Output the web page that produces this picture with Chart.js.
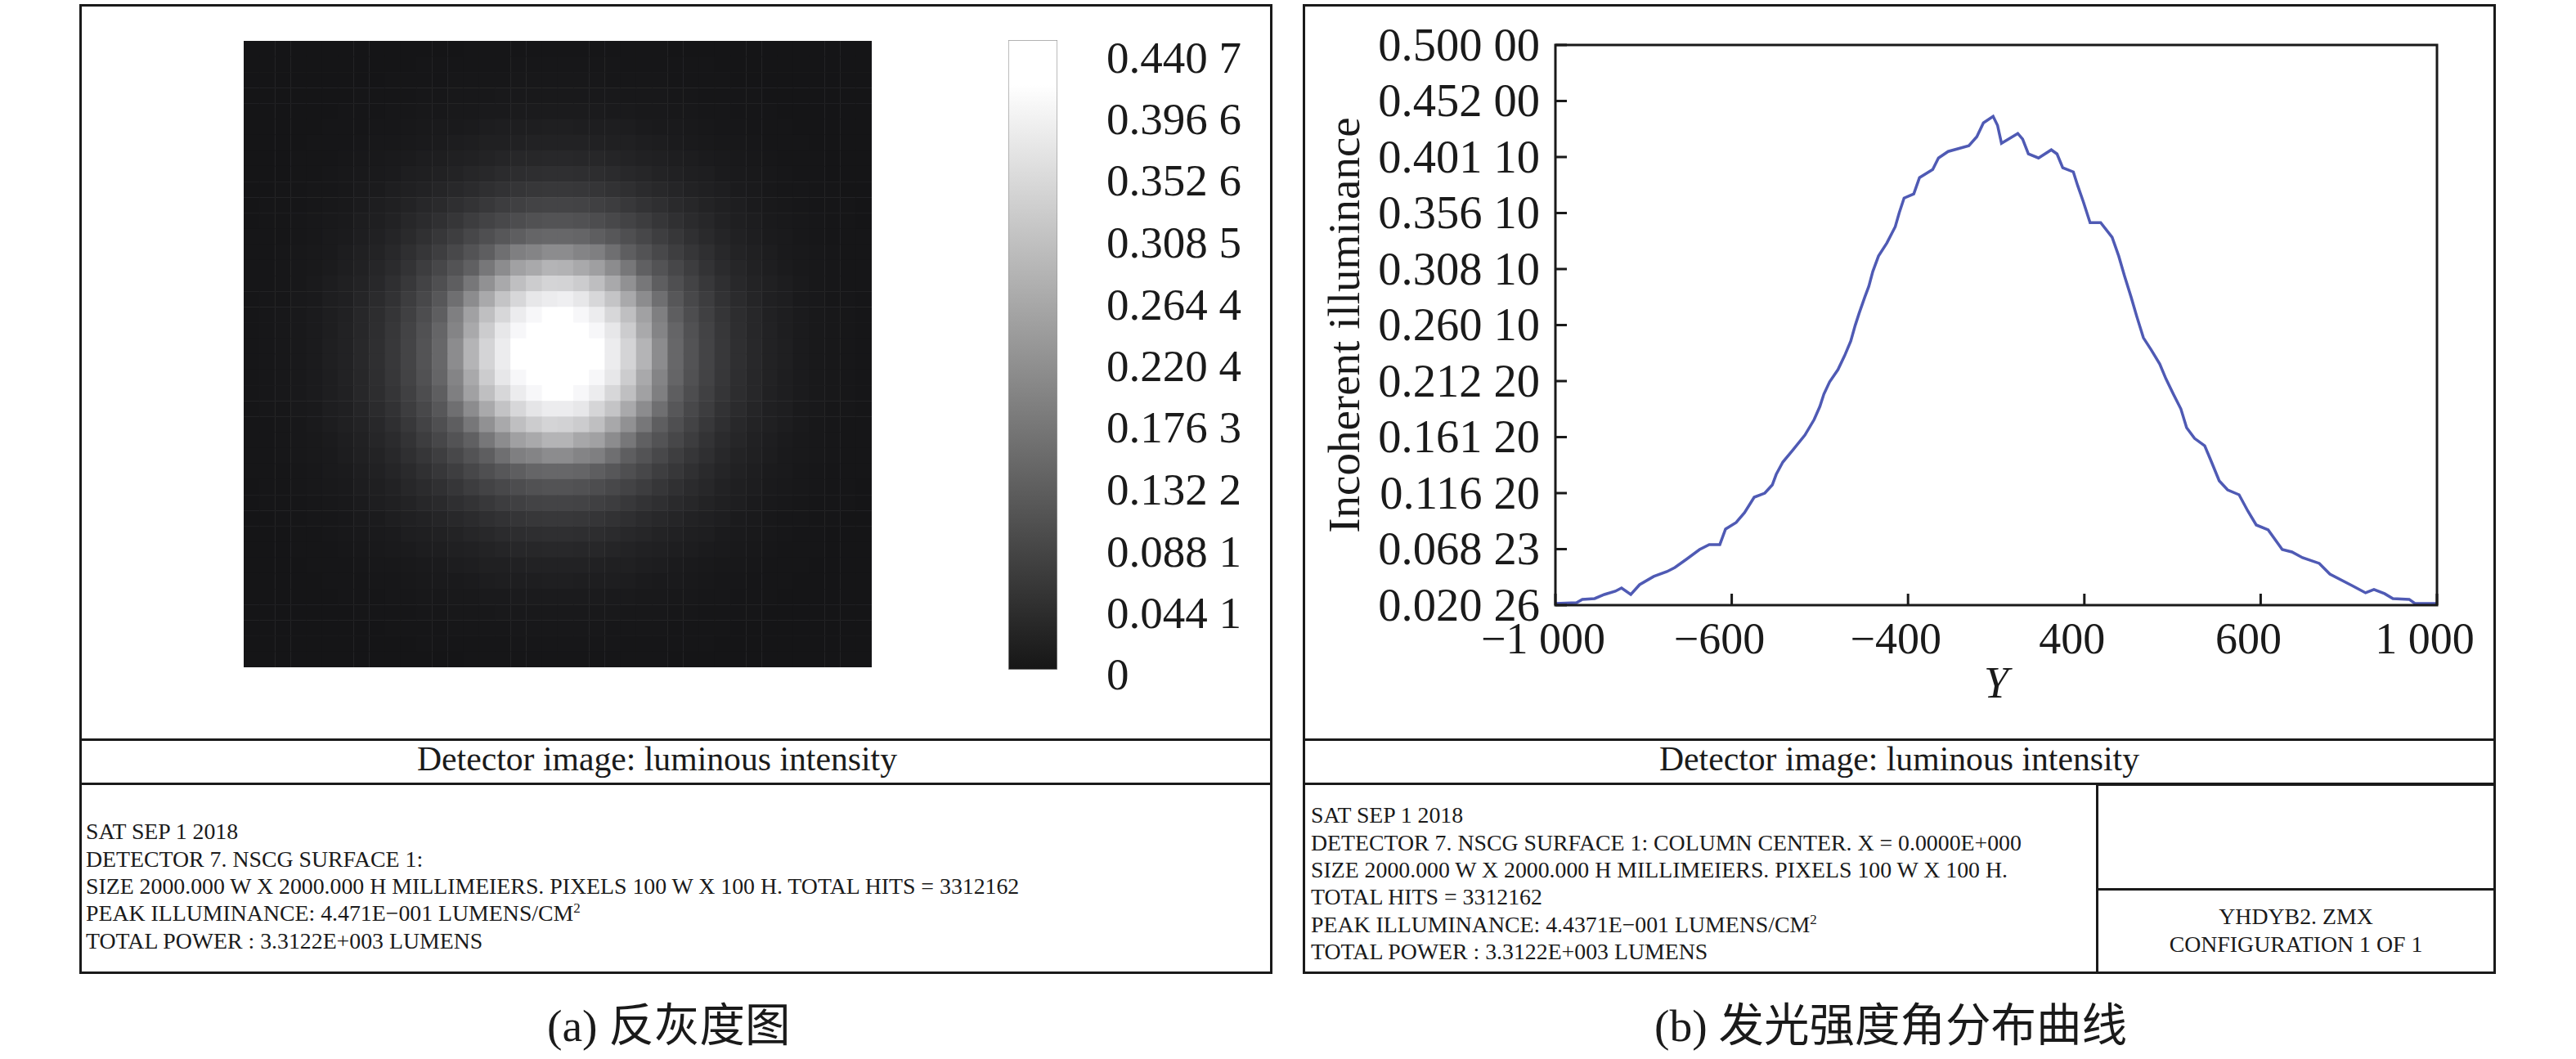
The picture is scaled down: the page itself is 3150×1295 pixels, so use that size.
<!DOCTYPE html>
<html>
<head>
<meta charset="utf-8">
<title>Detector image</title>
<script src="https://cdn.jsdelivr.net/npm/chart.js@4"></script>
<style>
  body { margin: 0; background: #fff; width: 3150px; height: 1295px; position: relative; overflow: hidden;
         font-family: "Liberation Serif", "Noto Sans CJK SC", serif; color: #1a1a1a; }
  canvas { position: absolute; display: block; }
  .box { position: absolute; border: 3px solid #1a1a1a; box-sizing: border-box; }
  .t { position: absolute; white-space: nowrap; font-size: 27.8px; line-height: 30px; }
  .head { font-size: 41.7px; line-height: 50px; }
  .cap { font-size: 55.5px; line-height: 70px; }
  sup { font-size: 17px; line-height: 0; }
</style>
</head>
<body>
<!-- left panel frame -->
<div class="box" style="left:97px;top:5px;width:1459px;height:1186px"></div>
<div class="box" style="left:97px;top:903px;width:1459px;height:57px"></div>
<!-- right panel frame -->
<div class="box" style="left:1593px;top:5px;width:1459px;height:1186px"></div>
<div class="box" style="left:1593px;top:903px;width:1459px;height:57px"></div>
<div class="box" style="left:2563px;top:958px;width:489px;height:233px"></div>
<div class="box" style="left:2563px;top:1086px;width:489px;height:3px;border-width:3px 0 0 0"></div>

<canvas id="detectorMap" width="768" height="766" style="left:298px;top:50px"></canvas>
<canvas id="colorBar" width="340" height="820" style="left:1233px;top:49px"></canvas>
<canvas id="profileChart" width="1430" height="860" style="left:1612px;top:15px"></canvas>

<div class="t head" style="left:510px;top:903px">Detector image: luminous intensity</div>
<div class="t" style="left:105px;top:1002px">SAT SEP 1 2018</div>
<div class="t" style="left:105px;top:1036px">DETECTOR 7. NSCG SURFACE 1:</div>
<div class="t" style="left:105px;top:1069px">SIZE 2000.000 W X 2000.000 H MILLIMEIERS. PIXELS 100 W X 100 H. TOTAL HITS = 3312162</div>
<div class="t" style="left:105px;top:1102px">PEAK ILLUMINANCE: 4.471E−001 LUMENS/CM<sup>2</sup></div>
<div class="t" style="left:105px;top:1136px">TOTAL POWER : 3.3122E+003 LUMENS</div>
<div class="t cap" style="left:669px;top:1220px">(a) 反灰度图</div>

<div class="t head" style="left:2029px;top:903px">Detector image: luminous intensity</div>
<div class="t" style="left:1603px;top:982px">SAT SEP 1 2018</div>
<div class="t" style="left:1603px;top:1016px">DETECTOR 7. NSCG SURFACE 1: COLUMN CENTER. X = 0.0000E+000</div>
<div class="t" style="left:1603px;top:1049px">SIZE 2000.000 W X 2000.000 H MILLIMEIERS. PIXELS 100 W X 100 H.</div>
<div class="t" style="left:1603px;top:1082px">TOTAL HITS = 3312162</div>
<div class="t" style="left:1603px;top:1116px">PEAK ILLUMINANCE: 4.4371E−001 LUMENS/CM<sup>2</sup></div>
<div class="t" style="left:1603px;top:1149px">TOTAL POWER : 3.3122E+003 LUMENS</div>
<div class="t" style="left:2563px;width:489px;text-align:center;top:1106px">YHDYB2. ZMX</div>
<div class="t" style="left:2563px;width:489px;text-align:center;top:1140px">CONFIGURATION 1 OF 1</div>
<div class="t cap" style="left:2023px;top:1220px">(b) 发光强度角分布曲线</div>

<script>
// line profile through the column centre
const profileY = [-1000,-952,-939,-911,-889,-864,-850,-829,-809,-777,-747,-729,-703,-673,-651,-627,-614,-590,-571,-549,
  -525,-508,-499,-484,-461,-434,-413,-400,-391,-378,-359,-344,-330,-320,-311,-298,-289,-280,-267,-248,
  -229,-220,-209,-187,-174,-144,-131,-109,-62,-44,-29,-7,3,12,49,60,73,96,125,138,
  151,175,185,198,213,237,263,278,291,306,319,334,352,371,385,402,419,432,450,473,
  487,506,525,551,571,590,617,649,671,695,733,757,807,838,857,881,900,937,950,1000];
const profileValues = [.0217,.0224,.0252,.0259,.0294,.0322,.0350,.0294,.0378,.0448,.0490,.0525,.0595,.0679,.0721,.0721,.0854,.0910,.0994,.1127,
  .1162,.1232,.1323,.1428,.1533,.1659,.1792,.1904,.2009,.2114,.2219,.2338,.2464,.2597,.2702,.2842,.2933,.3059,.3192,.3304,
  .3444,.3563,.3689,.3724,.3864,.3934,.4032,.4088,.4137,.4214,.4333,.4389,.4312,.4158,.4242,.4193,.4067,.4032,.4102,.4067,
  .3948,.3913,.3794,.3654,.3479,.3479,.3353,.3192,.3024,.2842,.2674,.2492,.2387,.2268,.2142,.2009,.1883,.1722,.1631,.1568,
  .1442,.1267,.1190,.1148,.1008,.0889,.0847,.0679,.0658,.0609,.0560,.0469,.0371,.0308,.0336,.0301,.0259,.0252,.0217,.0217];
const xTickLabels = ['−1 000','−600','−400','400','600','1 000'];
// printed bottom to top
const yTickLabels = ['0.020 26','0.068 23','0.116 20','0.161 20','0.212 20','0.260 10','0.308 10','0.356 10','0.401 10','0.452 00','0.500 00'];
const barTickValues = [0,.0441,.0881,.1322,.1763,.2204,.2644,.3085,.3526,.3966,.4407];
const barTickLabels = ['0','0.044 1','0.088 1','0.132 2','0.176 3','0.220 4','0.264 4','0.308 5','0.352 6','0.396 6','0.440 7'];

// detector map, 40 x 40 cells, estimated from the grey levels (1/1000 lumens/cm2)
const mapRows = [
[1,1,1,1,1,1,1,1,1,1,1,2,2,2,3,3,3,4,4,4,4,4,4,3,3,3,3,2,2,2,1,1,1,1,1,1,1,1,1,1],
[1,1,1,1,1,1,1,1,1,2,2,3,3,3,4,4,4,5,5,5,5,5,5,5,4,4,4,3,3,3,2,2,1,1,1,1,1,1,1,1],
[1,1,1,1,1,1,2,2,2,3,3,4,4,5,5,6,6,7,7,7,7,7,7,6,6,5,5,4,4,3,3,2,2,2,1,1,1,1,1,1],
[1,1,1,1,1,2,2,3,3,4,4,5,6,7,7,8,9,10,10,10,10,10,10,9,8,7,7,6,5,4,4,3,3,2,2,1,1,1,1,1],
[1,1,1,1,2,2,3,3,4,5,5,7,8,9,10,11,12,13,14,14,14,14,13,12,11,10,9,8,7,5,5,4,3,3,2,2,1,1,1,1],
[1,1,1,2,2,3,3,4,5,6,7,9,11,12,14,16,18,19,19,20,20,19,19,18,16,14,12,11,9,7,6,5,4,3,3,2,2,1,1,1],
[1,1,2,2,3,3,4,5,7,8,10,12,14,17,19,22,23,25,26,27,27,26,25,23,22,19,17,14,12,10,8,7,5,4,3,3,2,2,1,1],
[1,1,2,3,3,4,5,7,9,11,13,16,19,22,25,28,31,35,36,37,37,36,35,31,28,25,22,19,16,13,11,9,7,5,4,3,3,2,1,1],
[1,2,2,3,4,5,7,9,11,14,18,21,25,29,33,38,43,46,48,50,50,48,46,43,38,33,29,25,21,18,14,11,9,7,5,4,3,2,2,1],
[2,2,3,4,5,6,8,11,14,18,22,27,32,38,44,51,56,62,66,68,68,66,62,56,51,44,38,32,27,22,18,14,11,8,6,5,4,3,2,2],
[2,3,3,4,5,7,10,13,18,22,28,35,42,50,58,68,76,83,88,90,90,88,83,76,68,58,50,42,35,28,22,18,13,10,7,5,4,3,3,2],
[2,3,4,5,7,9,12,16,21,27,35,43,53,64,76,88,98,106,115,118,118,115,106,98,88,76,64,53,43,35,27,21,16,12,9,7,5,4,3,2],
[3,3,4,6,8,11,14,19,25,32,42,53,66,78,95,110,125,139,151,155,155,151,139,125,110,95,78,66,53,42,32,25,19,14,11,8,6,4,3,3],
[3,4,5,7,9,12,17,22,29,38,50,64,78,98,118,139,170,200,210,225,225,210,200,170,139,118,98,78,64,50,38,29,22,17,12,9,7,5,4,3],
[3,4,5,7,10,14,19,25,33,44,58,76,95,118,143,185,225,265,280,300,296,280,260,225,185,143,118,95,76,58,44,33,25,19,14,10,7,5,4,3],
[3,4,6,8,11,16,22,28,38,51,68,88,110,139,185,235,280,320,345,360,358,345,318,280,235,185,139,110,88,68,51,38,28,22,16,11,8,6,4,3],
[4,5,6,9,12,18,23,31,43,56,76,98,125,170,225,280,330,365,395,405,410,395,365,330,280,225,170,125,98,76,56,43,31,23,18,12,9,6,5,4],
[4,5,7,10,13,19,25,35,46,62,83,106,139,200,265,320,365,405,425,440,440,425,405,365,320,265,200,139,106,83,62,46,35,25,19,13,10,7,5,4],
[4,5,7,10,14,19,26,36,48,66,88,115,151,210,280,345,395,425,440,440,440,440,425,395,345,280,210,151,115,88,66,48,36,26,19,14,10,7,5,4],
[4,5,7,10,14,20,27,37,50,68,90,118,155,225,300,360,405,440,440,440,440,440,440,405,360,300,225,155,118,90,68,50,37,27,20,14,10,7,5,4],
[4,5,7,10,14,20,27,37,50,68,90,118,155,225,300,360,405,440,440,440,440,440,440,405,360,300,225,155,118,90,68,50,37,27,20,14,10,7,5,4],
[4,5,7,10,14,19,26,36,48,66,88,115,151,210,280,345,395,425,440,440,440,440,425,395,345,280,210,151,115,88,66,48,36,26,19,14,10,7,5,4],
[4,5,7,10,13,19,25,35,46,62,83,106,139,200,265,320,365,405,425,440,440,425,405,365,320,265,200,139,106,83,62,46,35,25,19,13,10,7,5,4],
[4,5,6,9,12,18,23,31,43,56,76,98,125,170,225,280,328,365,392,405,405,395,362,330,280,225,170,125,98,76,56,43,31,23,18,12,9,6,5,4],
[3,4,6,8,11,16,22,28,38,51,68,88,110,139,185,235,280,320,345,360,356,345,320,278,235,185,139,110,88,68,51,38,28,22,16,11,8,6,4,3],
[3,4,5,7,10,14,19,25,33,44,58,76,95,118,143,185,225,262,280,300,300,276,265,225,185,143,118,95,76,58,44,33,25,19,14,10,7,5,4,3],
[3,4,5,7,9,12,17,22,29,38,50,64,78,98,118,139,170,200,210,225,225,210,200,170,139,118,98,78,64,50,38,29,22,17,12,9,7,5,4,3],
[3,3,4,6,8,11,14,19,25,32,42,53,66,78,95,110,125,139,151,155,155,151,139,125,110,95,78,66,53,42,32,25,19,14,11,8,6,4,3,3],
[2,3,4,5,7,9,12,16,21,27,35,43,53,64,76,88,98,106,115,118,118,115,106,98,88,76,64,53,43,35,27,21,16,12,9,7,5,4,3,2],
[2,3,3,4,5,7,10,13,18,22,28,35,42,50,58,68,76,83,88,90,90,88,83,76,68,58,50,42,35,28,22,18,13,10,7,5,4,3,3,2],
[2,2,3,4,5,6,8,11,14,18,22,27,32,38,44,51,56,62,66,68,68,66,62,56,51,44,38,32,27,22,18,14,11,8,6,5,4,3,2,2],
[1,2,2,3,4,5,7,9,11,14,18,21,25,29,33,38,43,46,48,50,50,48,46,43,38,33,29,25,21,18,14,11,9,7,5,4,3,2,2,1],
[1,1,2,3,3,4,5,7,9,11,13,16,19,22,25,28,31,35,36,37,37,36,35,31,28,25,22,19,16,13,11,9,7,5,4,3,3,2,1,1],
[1,1,2,2,3,3,4,5,7,8,10,12,14,17,19,22,23,25,26,27,27,26,25,23,22,19,17,14,12,10,8,7,5,4,3,3,2,2,1,1],
[1,1,1,2,2,3,3,4,5,6,7,9,11,12,14,16,18,19,19,20,20,19,19,18,16,14,12,11,9,7,6,5,4,3,3,2,2,1,1,1],
[1,1,1,1,2,2,3,3,4,5,5,7,8,9,10,11,12,13,14,14,14,14,13,12,11,10,9,8,7,5,5,4,3,3,2,2,1,1,1,1],
[1,1,1,1,1,2,2,3,3,4,4,5,6,7,7,8,9,10,10,10,10,10,10,9,8,7,7,6,5,4,4,3,3,2,2,1,1,1,1,1],
[1,1,1,1,1,1,2,2,2,3,3,4,4,5,5,6,6,7,7,7,7,7,7,6,6,5,5,4,4,3,3,2,2,2,1,1,1,1,1,1],
[1,1,1,1,1,1,1,1,1,2,2,3,3,3,4,4,4,5,5,5,5,5,5,5,4,4,4,3,3,3,2,2,1,1,1,1,1,1,1,1],
[1,1,1,1,1,1,1,1,1,1,1,2,2,2,3,3,3,4,4,4,4,4,4,3,3,3,3,2,2,2,1,1,1,1,1,1,1,1,1,1]
];

const INK = '#1a1a1a';
const SERIF = '"Liberation Serif", serif';
const greyFor = v => {
  const g = Math.round(20 + 235 * Math.min(v / 0.4407, 1));
  return `rgb(${g},${g},${Math.min(g + 2, 255)})`;
};
// label overhang must not shrink the plot area
const noScalePadding = s => { s.paddingLeft = s.paddingRight = s.paddingTop = s.paddingBottom = 0; };

// detector map
const mapPoints = [];
mapRows.forEach((row, r) => row.forEach((v, c) => mapPoints.push({ x: c + 0.5, y: r + 0.5, v: v / 1000 })));
new Chart(document.getElementById('detectorMap'), {
  type: 'scatter',
  data: { datasets: [{
    data: mapPoints,
    pointStyle: 'rect',
    pointRadius: 13.9,
    pointBorderWidth: 0,
    pointBackgroundColor: ctx => greyFor(ctx.raw.v)
  }] },
  options: {
    responsive: false, animation: false, events: [], devicePixelRatio: 1,
    layout: { autoPadding: false },
    plugins: { legend: { display: false }, tooltip: { enabled: false } },
    scales: {
      x: { display: false, min: 0, max: 40 },
      y: { display: false, min: 0, max: 40, reverse: true }
    }
  }
});

// colour bar: the printed 0 and 0.440 7 sit inside the bar ends
new Chart(document.getElementById('colorBar'), {
  type: 'bar',
  data: {
    labels: ['scale'],
    datasets: [{
      data: [[0.0035, 0.453]],
      barPercentage: 1,
      categoryPercentage: 1,
      borderColor: '#9a9a9a',
      borderWidth: 1,
      borderSkipped: false,
      backgroundColor: ctx => {
        const area = ctx.chart.chartArea;
        if (!area) return '#888';
        const g = ctx.chart.ctx.createLinearGradient(0, area.bottom, 0, area.top);
        g.addColorStop(0, '#141414');
        g.addColorStop(0.93, '#ffffff');
        g.addColorStop(1, '#ffffff');
        return g;
      }
    }]
  },
  options: {
    responsive: false, animation: false, events: [], devicePixelRatio: 1,
    layout: { autoPadding: false, padding: { bottom: 44 } },
    plugins: { legend: { display: false }, tooltip: { enabled: false } },
    scales: {
      x: { display: false },
      y: {
        position: 'right', min: 0, max: 0.453,
        afterFit: s => { s.width = 280; noScalePadding(s); },
        afterBuildTicks: s => { s.ticks = barTickValues.map(value => ({ value })); },
        border: { display: false },
        grid: { display: false, drawTicks: false },
        ticks: {
          padding: 60, labelOffset: 4, color: INK, autoSkip: false,
          font: { family: SERIF, size: 55 },
          callback: (v, i) => barTickLabels[i]
        }
      }
    }
  }
});

// outline of the plot area and the inward tick marks
const plotFrame = {
  id: 'plotFrame',
  afterDraw(chart) {
    const { ctx, chartArea: a, scales } = chart;
    ctx.save();
    ctx.strokeStyle = INK;
    ctx.lineWidth = 3;
    ctx.strokeRect(a.left, a.top, a.right - a.left, a.bottom - a.top);
    ctx.beginPath();
    scales.x.ticks.forEach(t => {
      const px = scales.x.getPixelForValue(t.value);
      ctx.moveTo(px, a.bottom);
      ctx.lineTo(px, a.bottom - 14);
    });
    scales.y.ticks.forEach(t => {
      const py = scales.y.getPixelForValue(t.value);
      ctx.moveTo(a.left, py);
      ctx.lineTo(a.left + 14, py);
    });
    ctx.stroke();
    ctx.restore();
  }
};

new Chart(document.getElementById('profileChart'), {
  type: 'line',
  data: {
    labels: profileY,
    datasets: [{
      data: profileY.map((y, i) => ({ x: y, y: profileValues[i] })),
      borderColor: '#4f5ab4',
      borderWidth: 3.5,
      pointRadius: 0,
      tension: 0,
      fill: false
    }]
  },
  options: {
    responsive: false, animation: false, events: [], devicePixelRatio: 1,
    layout: { autoPadding: false, padding: { top: 40, right: 62 } },
    plugins: { legend: { display: false }, tooltip: { enabled: false } },
    scales: {
      x: {
        type: 'linear', min: -1000, max: 1000,
        afterFit: s => { s.height = 135; noScalePadding(s); },
        border: { display: false },
        grid: { display: false, drawTicks: false },
        title: { display: true, text: 'Y', color: INK, padding: { top: 0, bottom: 4 }, font: { family: SERIF, size: 54, style: 'italic' } },
        ticks: {
          stepSize: 400, padding: 12, labelOffset: -15, maxRotation: 0, autoSkip: false, color: INK,
          font: { family: SERIF, size: 54 },
          callback: (v, i) => xTickLabels[i]
        }
      },
      y: {
        min: 0.02026, max: 0.5,
        afterFit: s => { s.width = 290; noScalePadding(s); },
        afterBuildTicks: s => {
          s.ticks = yTickLabels.map((t, i) => ({ value: s.min + i * (s.max - s.min) / 10 }));
        },
        border: { display: false },
        grid: { display: false, drawTicks: false },
        title: { display: true, text: 'Incoherent illuminance', color: INK, padding: { top: 3, bottom: 0 }, font: { family: SERIF, size: 55 } },
        ticks: {
          padding: 19, labelOffset: 4, color: INK, autoSkip: false,
          font: { family: SERIF, size: 56.5 },
          callback: (v, i) => yTickLabels[i]
        }
      }
    }
  },
  plugins: [plotFrame]
});
</script>
</body>
</html>
